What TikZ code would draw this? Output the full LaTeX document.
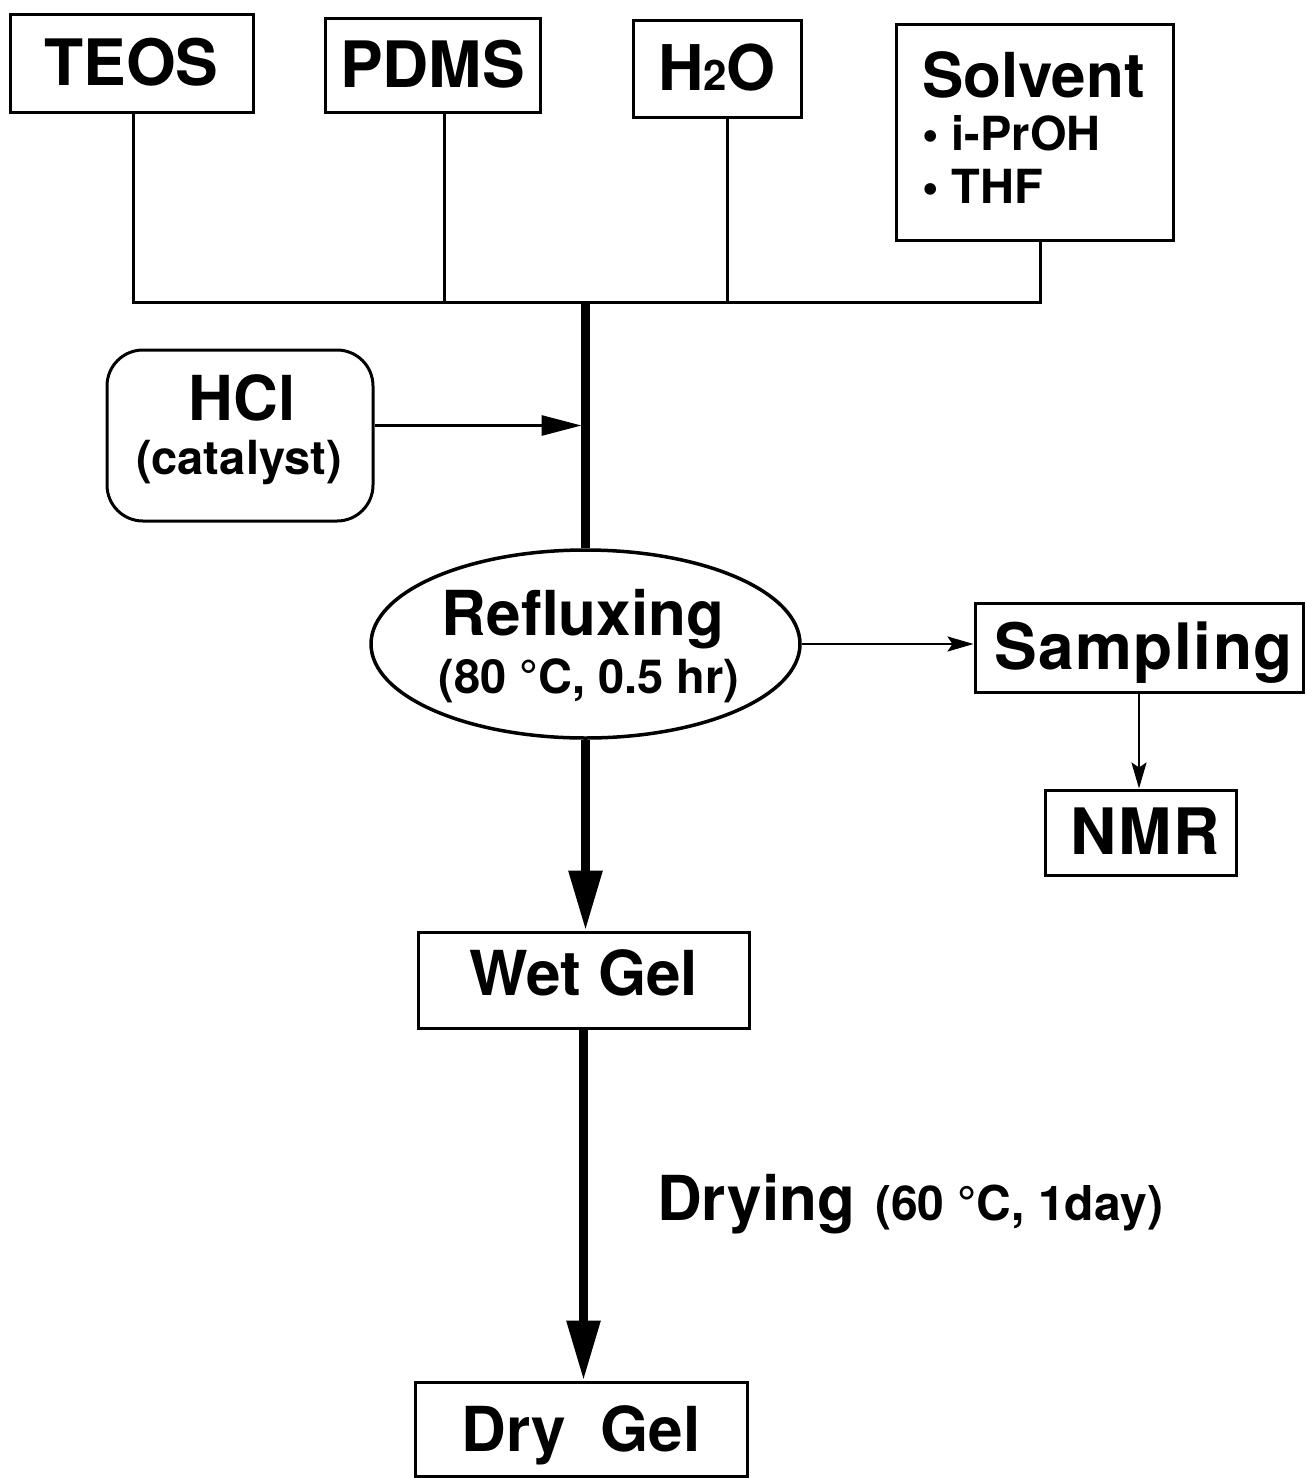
\documentclass[tikz,border=0pt]{standalone}
\usepackage{fontspec}
\setmainfont{TeX Gyre Heros}
\usetikzlibrary{arrows.meta,shapes.geometric}
\newcommand\myfs[1]{\fontsize{#1}{#1}\selectfont}
\begin{document}
\begin{tikzpicture}[x=1pt,y=-1pt,
  box/.style={draw, line width=3pt, inner sep=0pt, font=\bfseries\myfs{62}, text height=44pt, text depth=0pt},
  txt/.style={inner sep=0pt, font=\bfseries\myfs{62}},
  smalltxt/.style={inner sep=0pt, font=\bfseries\myfs{47}},
  thin line/.style={line width=3pt},
  thick line/.style={line width=9pt},
  bigarrow/.style={line width=9pt, -{Triangle[length=60pt,width=32pt]}},
  midarrow/.style={line width=3pt, -{Triangle[length=40pt,width=20pt]}},
  smallarrow/.style={line width=2.5pt, -{Stealth[length=26pt,width=15pt,inset=5pt]}}
]
\useasboundingbox (0,0) rectangle (1306,1478);

% top inputs
\node[box, minimum width=243pt, minimum height=98pt, font=\bfseries\myfs{64}] (TEOS) at (131.5,63) {TEOS};
\node[box, minimum width=215pt, minimum height=94pt, font=\bfseries\myfs{64}] (PDMS) at (432.5,65) {PDMS};
\node[box, minimum width=168pt, minimum height=97pt, font=\bfseries\myfs{63}] (H2O) at (717,68.5) {H{\myfs{42}2}O};
\node[draw, line width=3pt, inner sep=0pt, minimum width=277pt, minimum height=216pt] (Solv) at (1034.5,132) {};
\node[txt, anchor=base west] (solvt) at (922,97) {Solvent};
\node[smalltxt, anchor=base west] (solv1) at (922,150) {\textbullet\ i-PrOH};
\node[smalltxt, anchor=base west] (solv2) at (922,203) {\textbullet\ THF};

% bus
\coordinate (busL) at (133,302);
\coordinate (busR) at (1040,302);
\coordinate (j) at (585.5,302);
\draw[thin line, line join=miter] ([xshift=1.5pt]TEOS.south) |- (busR) -- ([xshift=5.5pt]Solv.south);
\draw[thin line] ([xshift=11.5pt]PDMS.south) -- ([xshift=11.5pt]PDMS.south |- busL);
\draw[thin line] ([xshift=10pt]H2O.south) -- ([xshift=10pt]H2O.south |- busL);

% HCl
\node[draw, line width=3pt, rounded corners=36pt, inner sep=0pt, minimum width=266pt, minimum height=171pt] (HCl) at (240,435.5) {};
\node[txt, anchor=base] (hclt) at (242,420) {HCl};
\node[smalltxt, anchor=base] (hclc) at (239,474) {(catalyst)};

% refluxing ellipse
\node[draw, ellipse, line width=3.5pt, inner sep=0pt, minimum width=429pt, minimum height=188pt] (Ref) at (585.5,644) {};
\node[txt, anchor=base] (reft) at (583,635) {Refluxing};
\node[smalltxt, anchor=base] (refc) at (589,693) {(80 °C, 0.5 hr)};

\draw[thick line] (j) -- (Ref.north);
\draw[midarrow] ([yshift=10pt]HCl.east) -- ([yshift=10pt,xshift=-4pt]HCl.east -| j);

% sampling / NMR
\node[box, minimum width=328pt, minimum height=89pt, font=\bfseries\myfs{64}, text depth=0pt] (Samp) at (1139,647.5) {\hspace*{9pt}S\kern1.5pt a\kern1.5pt m\kern1.5pt p\kern1.5pt l\kern1.5pt i\kern1.5pt n\kern1.5pt g};
\node[box, minimum width=191pt, minimum height=85pt, font=\bfseries\myfs{64}] (NMR) at (1140.5,832.5) {\hspace*{9pt}N\kern2pt M\kern2pt R};
\draw[smallarrow] (Ref.east) -- (Ref.east -| Samp.west);
\draw[smallarrow] (Samp.south) -- (Samp.south |- NMR.north);

% gels
\node[box, minimum width=331pt, minimum height=96pt] (Wet) at (583.5,980) {\raisebox{7pt}{Wet Gel}};
\node[box, minimum width=332pt, minimum height=94pt] (Dry) at (581,1429) {Dry\hspace{17pt} Gel};
\draw[bigarrow] (Ref.south) -- (Ref.south |- Wet.north);
\draw[bigarrow] (Wet.south) -- (Wet.south |- Dry.north);

\node[txt, anchor=base west] (dry) at (657,1220) {Drying\hspace{20pt}{\myfs{48}(60 °C, 1day)}};
\end{tikzpicture}
\end{document}
